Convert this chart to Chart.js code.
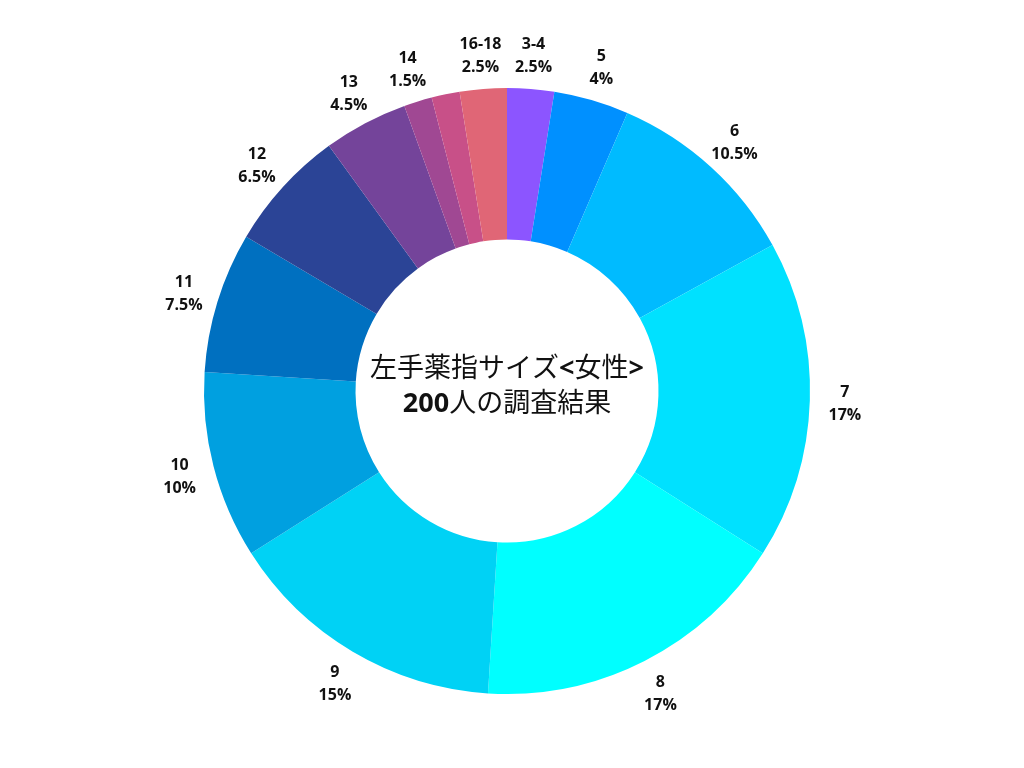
<!DOCTYPE html>
<html>
<head>
<meta charset="utf-8">
<script src="https://cdn.jsdelivr.net/npm/chart.js@4/dist/chart.umd.min.js"></script>
<style>
html,body{margin:0;padding:0;background:#fff;}
#wrap{width:1024px;height:768px;position:relative;}
</style>
</head>
<body>
<div id="wrap"><canvas id="c" width="1024" height="768"></canvas></div>
<script>
const categories = ["3-4","5","6","7","8","9","10","11","12","13","14","15","16-18"];
const percents = [2.5,4,10.5,17,17,15,10,7.5,6.5,4.5,1.5,1.5,2.5];
const colors = ["#8C55FF","#0090FF","#00BBFF","#00E1FF","#00FFFF","#00D2F5","#00A0E0","#0070C0","#2B4496","#74449A","#A04893","#C85088","#E06676"];
const centerLine1 = [["左手薬指サイズ","normal"],["<","bold"],["女性","normal"],[">","bold"]];
const centerLine2 = [["200","bold"],["人の調査結果","normal"]];

const FONT = "'Open Sans','Noto Sans CJK JP',sans-serif";

const outerLabels = {
  id:'outerLabels',
  afterDatasetsDraw(chart){
    const ctx = chart.ctx;
    const meta = chart.getDatasetMeta(0);
    const drawn = [];
    ctx.save();
    ctx.font = "bold 16px " + FONT;
    ctx.fillStyle = "#111";
    ctx.textAlign = "center";
    ctx.textBaseline = "middle";
    meta.data.forEach((arc,i)=>{
      const p = arc.getProps(['x','y','startAngle','endAngle','outerRadius'],true);
      const mid = (p.startAngle+p.endAngle)/2;
      const r = p.outerRadius + 35;
      const x = p.x + Math.cos(mid)*r;
      const y = p.y + Math.sin(mid)*r + 2;
      const l1 = categories[i], l2 = percents[i] + "%";
      const w = Math.max(ctx.measureText(l1).width, ctx.measureText(l2).width);
      const box = {x1:x-w/2,x2:x+w/2,y1:y-23,y2:y+23};
      const overlap = drawn.some(b=>!(box.x2<b.x1||box.x1>b.x2||box.y2<b.y1||box.y1>b.y2));
      if(overlap) return;
      drawn.push(box);
      ctx.fillText(l1, x, y-11.5);
      ctx.fillText(l2, x, y+11.5);
    });
    ctx.restore();
  }
};

const centerText = {
  id:'centerText',
  afterDatasetsDraw(chart){
    const ctx = chart.ctx;
    const arc = chart.getDatasetMeta(0).data[0];
    const cx = arc.x, cy = arc.y;
    ctx.save();
    ctx.fillStyle = "#111";
    ctx.textBaseline = "middle";
    ctx.textAlign = "left";
    const drawLine = (parts, y)=>{
      let total = 0;
      parts.forEach(([t,w])=>{ctx.font = w+" 27px "+FONT; total += ctx.measureText(t).width;});
      let x = cx - total/2;
      parts.forEach(([t,w])=>{ctx.font = w+" 27px "+FONT; ctx.fillText(t,x,y); x += ctx.measureText(t).width;});
    };
    drawLine(centerLine1, cy-22);
    drawLine(centerLine2, cy+13);
    ctx.restore();
  }
};

new Chart(document.getElementById('c'),{
  type:'doughnut',
  data:{
    labels:categories,
    datasets:[{data:percents,backgroundColor:colors,borderWidth:0,hoverOffset:0}]
  },
  options:{
    responsive:false,
    animation:false,
    cutout:'50%',
    layout:{padding:{top:88,bottom:74,left:0,right:10}},
    plugins:{legend:{display:false},tooltip:{enabled:false}},
    events:[]
  },
  plugins:[outerLabels,centerText]
});
</script>
</body>
</html>
